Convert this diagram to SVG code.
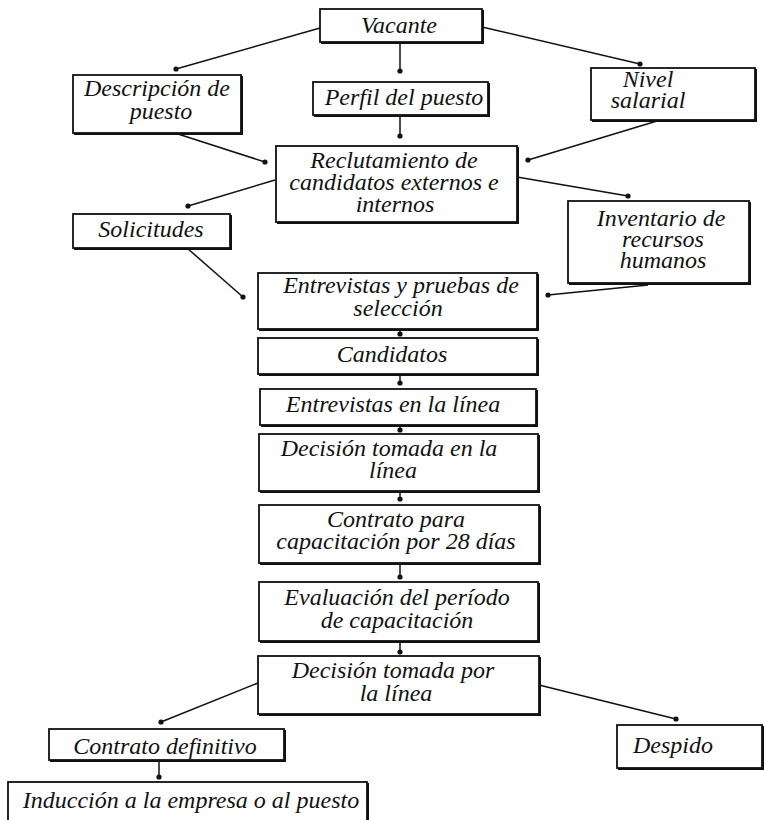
<svg xmlns="http://www.w3.org/2000/svg" width="764" height="820" viewBox="0 0 764 820">
<style>
.b{fill:#fff;stroke:#111;stroke-width:1.8}
.s{fill:none;stroke:#111;stroke-width:2}
.t{font-family:"Liberation Serif","Times New Roman",serif;font-style:italic;font-size:24px;fill:#111;text-anchor:middle}
.c{fill:none;stroke:#111;stroke-width:1.5}
.d{fill:#111}
</style>
<defs>
<marker id="dot" viewBox="0 0 6 6" refX="3" refY="3" markerWidth="6" markerHeight="6" markerUnits="userSpaceOnUse">
<circle cx="3" cy="3" r="2.6" class="d"/>
</marker>
</defs>
<rect width="764" height="820" fill="#fff"/>
<g id="connectors">
<line class="c" x1="320" y1="28" x2="176" y2="69" marker-end="url(#dot)"/>
<line class="c" x1="482" y1="27" x2="640" y2="64" marker-end="url(#dot)"/>
<line class="c" x1="400" y1="42" x2="400" y2="71" marker-end="url(#dot)"/>
<line class="c" x1="400" y1="115" x2="400" y2="136" marker-end="url(#dot)"/>
<line class="c" x1="178" y1="134" x2="265" y2="162" marker-end="url(#dot)"/>
<line class="c" x1="657" y1="121" x2="528" y2="160" marker-end="url(#dot)"/>
<line class="c" x1="275" y1="180" x2="188" y2="206" marker-end="url(#dot)"/>
<line class="c" x1="517" y1="177" x2="628" y2="196" marker-end="url(#dot)"/>
<line class="c" x1="187" y1="248" x2="243" y2="297" marker-end="url(#dot)"/>
<line class="c" x1="648" y1="285" x2="548" y2="295" marker-end="url(#dot)"/>
<line class="c" x1="400" y1="329" x2="400" y2="334" marker-end="url(#dot)"/>
<line class="c" x1="400" y1="375" x2="400" y2="383" marker-end="url(#dot)"/>
<line class="c" x1="400" y1="425" x2="400" y2="430" marker-end="url(#dot)"/>
<line class="c" x1="400" y1="491" x2="400" y2="499" marker-end="url(#dot)"/>
<line class="c" x1="400" y1="563" x2="400" y2="577" marker-end="url(#dot)"/>
<line class="c" x1="400" y1="641" x2="400" y2="652" marker-end="url(#dot)"/>
<line class="c" x1="258" y1="683" x2="161" y2="722" marker-end="url(#dot)"/>
<line class="c" x1="539" y1="685" x2="676" y2="719" marker-end="url(#dot)"/>
<line class="c" x1="159" y1="760" x2="159" y2="777" marker-end="url(#dot)"/>
</g>
<g id="vacante">
<rect class="b" x="320" y="9" width="162" height="33"/>
<path class="s" d="M321 43H483V10"/>
<text class="t" x="399" y="33">Vacante</text>
</g>
<g id="descripcion">
<rect class="b" x="73" y="75" width="168" height="58"/>
<path class="s" d="M74 134H242V76"/>
<text class="t" x="157" y="96">Descripción de</text>
<text class="t" x="161" y="119">puesto</text>
</g>
<g id="perfil">
<rect class="b" x="313" y="82" width="175" height="33"/>
<path class="s" d="M314 116H489V83"/>
<text class="t" x="404" y="105">Perfil del puesto</text>
</g>
<g id="nivel">
<rect class="b" x="591" y="68" width="164" height="52"/>
<path class="s" d="M592 121H756V69"/>
<text class="t" x="648" y="87">Nivel</text>
<text class="t" x="648" y="108">salarial</text>
</g>
<g id="reclutamiento">
<rect class="b" x="276" y="146" width="241" height="76"/>
<path class="s" d="M277 223H518V147"/>
<text class="t" x="394" y="168">Reclutamiento de</text>
<text class="t" x="394" y="190">candidatos externos e</text>
<text class="t" x="395" y="212">internos</text>
</g>
<g id="solicitudes">
<rect class="b" x="73" y="214" width="157" height="34"/>
<path class="s" d="M74 249H231V215"/>
<text class="t" x="151" y="237">Solicitudes</text>
</g>
<g id="inventario">
<rect class="b" x="568" y="201" width="181" height="82"/>
<path class="s" d="M569 284H750V202"/>
<text class="t" x="661" y="226">Inventario de</text>
<text class="t" x="663" y="247">recursos</text>
<text class="t" x="663" y="268">humanos</text>
</g>
<g id="entrevistas-pruebas">
<rect class="b" x="258" y="273" width="279" height="56"/>
<path class="s" d="M259 330H538V274"/>
<text class="t" x="401" y="293">Entrevistas y pruebas de</text>
<text class="t" x="398" y="316">selección</text>
</g>
<g id="candidatos">
<rect class="b" x="258" y="338" width="279" height="36"/>
<path class="s" d="M259 375H538V339"/>
<text class="t" x="392" y="362">Candidatos</text>
</g>
<g id="entrevistas-linea">
<rect class="b" x="260" y="389" width="276" height="36"/>
<path class="s" d="M261 426H537V390"/>
<text class="t" x="393" y="412">Entrevistas en la línea</text>
</g>
<g id="decision-linea">
<rect class="b" x="259" y="434" width="279" height="57"/>
<path class="s" d="M260 492H539V435"/>
<text class="t" x="389" y="456">Decisión tomada en la</text>
<text class="t" x="393" y="478">línea</text>
</g>
<g id="contrato-capacitacion">
<rect class="b" x="259" y="505" width="280" height="58"/>
<path class="s" d="M260 564H540V506"/>
<text class="t" x="396" y="527">Contrato para</text>
<text class="t" x="396" y="549">capacitación por 28 días</text>
</g>
<g id="evaluacion">
<rect class="b" x="259" y="582" width="279" height="59"/>
<path class="s" d="M260 642H539V583"/>
<text class="t" x="397" y="605">Evaluación del período</text>
<text class="t" x="397" y="628">de capacitación</text>
</g>
<g id="decision-por">
<rect class="b" x="258" y="656" width="281" height="58"/>
<path class="s" d="M259 715H540V657"/>
<text class="t" x="393" y="678">Decisión tomada por</text>
<text class="t" x="396" y="701">la línea</text>
</g>
<g id="contrato-definitivo">
<rect class="b" x="49" y="729" width="235" height="31"/>
<path class="s" d="M50 761H285V730"/>
<text class="t" x="165" y="754">Contrato definitivo</text>
</g>
<g id="despido">
<rect class="b" x="617" y="725" width="145" height="43"/>
<path class="s" d="M618 769H763V726"/>
<text class="t" x="673" y="753">Despido</text>
</g>
<g id="induccion">
<rect class="b" x="8" y="782" width="359" height="40"/>
<path class="s" d="M368 783V822"/>
<text class="t" x="191" y="808">Inducción a la empresa o al puesto</text>
</g>
</svg>
